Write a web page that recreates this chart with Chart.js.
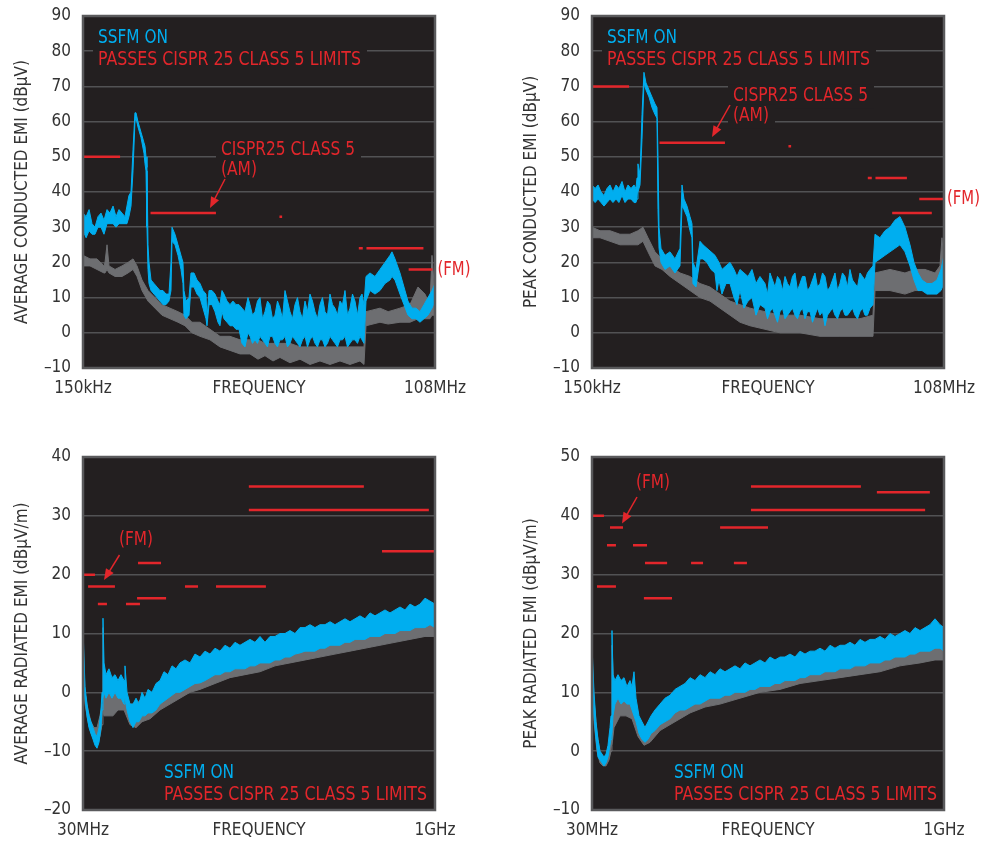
<!DOCTYPE html>
<html>
<head>
<meta charset="utf-8">
<title>Conducted and radiated EMI</title>
<script src="https://cdn.jsdelivr.net/npm/chart.js@4.4.1/dist/chart.umd.min.js"></script>
<style>
body { margin: 0; background: #fff; }
#wrap { position: relative; width: 991px; height: 842px; overflow: hidden; }
canvas { position: absolute; }
</style>
</head>
<body>
<div id="wrap">
<canvas id="avgCond" width="495" height="420" style="left:0;top:0"></canvas>
<canvas id="pkCond" width="482" height="420" style="left:509px;top:0"></canvas>
<canvas id="avgRad" width="495" height="415" style="left:0;top:441px"></canvas>
<canvas id="pkRad" width="482" height="415" style="left:509px;top:441px"></canvas>
</div>
<script>
const FONT = '"DejaVu Sans Condensed", "Liberation Sans", sans-serif';
const BLUE = '#00aeef', GRAY = '#6d6e71', RED = '#e3262b', BG = '#231f20', INK = '#333333';

// x axis labels (only the ends plus the axis name in the middle)
const condTickFreq = [0.15, 4.025, 108];
const condTickLabels = ['150kHz', 'FREQUENCY', '108MHz'];
const radTickFreq = [30, 515, 1000];
const radTickLabels = ['30MHz', 'FREQUENCY', '1GHz'];

// ---- average conducted EMI, frequencies in MHz, envelope top / bottom in dBuV
const avgCondOnFreq = [0.150,0.159,0.168,0.1775,0.1877,0.1985,0.210,0.222,0.235,0.248,0.263,0.278,0.294,0.311,0.329,0.341,0.354,0.368,0.382,0.396,0.404,0.419,0.4435,0.469,0.478,0.487,0.496,0.5055,0.515,0.535,0.5655,0.598,0.6325,0.669,0.7076,0.748,0.777,0.7915,0.837,0.8855,0.9366,0.972,0.990,1.028,1.088,1.129,1.194,1.263,1.336,1.413,1.494,1.523,1.581,1.672,1.768,1.870,1.941,2.015,2.092,2.213,2.340,2.475,2.618,2.769,2.929,3.098,3.276,
  3.401,3.564,3.734,3.913,4.100,4.297,4.501,4.717,4.942,5.179,5.427,5.687,5.958,6.244,6.542,6.856,7.182,7.527,7.886,8.265,8.658,9.074,9.507,9.963,10.44,10.94,11.46,12.01,12.58,13.18,13.81,14.47,15.17,15.90,16.65,17.45,18.29,19.17,20.08,21.04,22.04,23.10,24.20,25.36,26.57,27.6,28.64,
  29.73,32.03,35.17,38.62,42.40,46.55,48.33,51.11,56.12,60.48,65.17,70.23,75.68,81.56,87.89,94.71,102.1,108];
const avgCondOnHi = [34,33,35,31,30,33,34,32,35,34,36,33,35,34,33,36,39,40,52,62.5,62.5,60,57,54,53,50,47,25,20,15,14,13,12,12,11,11,20,30,28,25,22,20,12,9,10,17,17,15,14,12,11,4,12,12,11,9,8,12,11,9,8,9,8,8,7,6,10,
  8,5,6,9,10,4,6,9,8,4,5,9,7,4,12,9,6,4,8,10,6,4,9,6,11,9,6,4,8,10,6,5,11,8,7,5,9,8,12,5,7,11,9,5,10,11,8,
  16,17,16,18,20,22,23,21,17,13,9,7,7,6,8,10,12,14];
const avgCondOnLo = [29,27,29,28,28,30,30,28,31,31,31,30,31,31,31,31,33,36,46,60,61,58.5,55.5,51,48,46,30,18,14,12,11,10,9,8,8,9,12,26,25,22,18,14,5,4,5,13,13,11,10,7,4,2,8,8,6,3,2,6,4,3,2,2,1,1,-3,-4,0,
  -1,-3,-2,-3,-1,-2,-3,-4,-1,-1,-3,-4,-2,-2,-1,-4,-3,-1,-2,-3,-4,-2,-1,-4,-2,-1,-3,-4,-2,-2,-4,-3,-1,-2,-3,-4,-2,-2,-1,-4,-3,-2,-2,-3,-1,-2,-3,
  9,12,11,12,14,15,16,15,11,8,5,4,4,3,4,5,7,9];
const avgCondOffFreq = [0.150,0.171,0.1948,0.222,0.2263,0.235,0.2438,0.273,0.311,0.348,0.382,0.4116,0.4519,0.5055,0.576,0.6566,0.7625,0.8855,1.009,1.150,1.336,1.610,1.941,2.340,2.821,3.401,3.95,4.501,5.23,5.958,7.18,8.658,10.44,12.58,15.17,18.29,22.04,26.57,28.64,29.73,38.62,45.0,56.12,67.65,78.56,89.55,98.32,102.1,108];
const avgCondOffHi = [22,21,21,19,20,25,19,18,19,20,21,19,15,12,10,8,7,6,5,3,3,1,-1,-1,-2,-2,-2,-3,-3,-3,-3,-4,-4,-4,-4,-4,-4,-4,-4,6,7,6,7,8,13,11,8,22,10];
const avgCondOffLo = [19,19,18,17,17,18,17,16,16,17,18,16,12,9,7,5,4,3,2,0,-1,-2,-4,-5,-6,-6,-7.5,-6.5,-8,-7,-8.5,-7.5,-9,-8,-9,-8,-9,-8,-9,2,3,2.5,3,3,4,4,4,5,5];
const avgCondLimStart = [0.15, 0.53, 5.9, 26, 30, 41, 66];
const avgCondLimEnd = [0.3, 1.8, 6.2, 28, 54, 87, 103];
const avgCondLimLevel = [50, 34, 33, 24, 24, 24, 18];

// ---- peak conducted EMI
const pkCondOnFreq = [0.150,0.159,0.168,0.1775,0.1877,0.1985,0.210,0.222,0.235,0.248,0.263,0.278,0.294,0.311,0.329,0.341,0.348,0.354,0.368,0.382,0.396,0.4116,0.4353,0.4604,0.487,0.5055,0.515,0.525,0.5448,0.587,0.6445,0.7076,0.777,0.8065,0.837,0.8855,0.9366,0.972,0.990,1.0475,1.129,1.194,1.287,1.387,1.494,1.551,1.610,1.703,1.8355,1.978,2.1315,2.254,2.3845,2.569,2.769,2.984,3.216,3.465,
  3.805,3.988,4.177,4.378,4.586,4.806,5.036,5.278,5.529,5.794,6.071,6.362,6.665,6.985,7.318,7.669,8.035,8.421,8.822,9.245,9.686,10.15,10.64,11.15,11.68,12.24,12.82,13.44,14.08,14.76,15.45,16.19,16.97,17.78,18.63,19.52,20.46,21.44,22.46,23.54,24.66,25.84,27.08,28.64,
  29.73,32.64,35.84,39.35,43.20,47.43,52.08,57.18,61.62,66.40,71.55,78.56,86.26,94.71,102.1,108];
const pkCondOnHi = [42,41,42,40,39,41,42,40,42,41,43,40,42,41,42,41,44,48,45,62,74,71,69,67,65,64,50,30,24,22,23,21,24,42,38,36,33,31,20,18,26,25,24,23,22,21,20,18,19,20,18,16,18,17,16,18,14,16,
  14,11,17,15,13,16,15,12,16,14,13,16,17,12,14,16,16,12,13,15,17,13,14,17,16,12,13,15,17,12,14,17,16,13,18,15,14,13,17,16,15,17,18,19,
  28,27,29,30,32,33,30,25,20,17,15,14,14,15,18,22];
const pkCondOnLo = [38,37,38,37,36,37,38,37,38,37,39,37,38,38,37,37,38,40,42,55,71,69,67,64,62,61,35,24,20,18,19,17,19,36,35,33,29,27,14,13,21,21,20,18,17,12,15,11,14,14,10,8,12,7,9,10,5,8,
  7,4,6,7,5,3,6,7,4,5,6,7,5,4,6,7,4,6,6,3,5,7,5,6,2,5,6,7,5,4,6,7,5,5,6,7,5,4,6,7,5,5,7,8,
  20,21,22,23,24,25,23,19,15,12,12,11,11,11,12,14];
const pkCondOffFreq = [0.150,0.1742,0.210,0.2531,0.3051,0.354,0.389,0.4272,0.487,0.555,0.6445,0.777,0.9366,1.129,1.361,1.641,1.978,2.3845,2.875,3.805,5.036,7.318,10.64,15.45,22.46,28.64,29.73,39.35,52.08,62.78,75.68,91.24,100.2,104,108];
const pkCondOffHi = [30,29,29,28,28,29,30,27,23,21,19,17,16,14,13,11,9,8,7,6,5,5,4,4,4,5,17,18,17,18,18,17,19,27,20];
const pkCondOffLo = [27,27,26,25,25,25,26,23,19,18,16,14,12,10,9,7,5,3,2,1,0,0,-1,-1,-1,-1,12,12,11,12,12,12,13,13,14];
const pkCondLimStart = [0.15, 0.53, 5.9, 26, 30, 41, 68];
const pkCondLimEnd = [0.3, 1.8, 6.2, 28, 54, 86, 108];
const pkCondLimLevel = [70, 54, 53, 44, 44, 34, 38];

// ---- average radiated EMI, frequencies in MHz, dBuV/m
const avgRadOnFreq = [30.0,35.5,41.0,46.5,52.0,57.6,63.1,68.6,74.1,79.6,82.4,85.1,87.9,93.4,101.6,109.9,118.2,126.4,134.7,143.0,145.7,151.3,159.5,167.8,176.1,184.3,192.6,200.9,209.1,220.1,231.2,242.2,253.2,264.2,275.3,286.3,297.3,311.1,324.9,338.6,352.4,366.2,380.0,393.8,407.5,421.3,435.1,448.9,462.6,476.4,490.2,504.0,517.8,531.5,545.3,559.1,572.9,586.7,600.4,614.2,628.0,641.8,655.5,669.3,683.1,696.9,710.7,724.4,738.2,752.0,765.8,779.6,793.3,807.1,820.9,834.7,848.4,862.2,876.0,889.8,903.6,917.3,931.1,944.9,958.7,972.5,986.2,1000];
const avgRadOnHi = [11,1,-2,-4,-5,-6,-7,-7.5,-6,-3,0,12.6,5,3,4,2.5,3,2,3,2,4.5,0,-2,-2,-1,-2,0,-1,0.5,0,1.5,2,3.5,3,4.5,4,5,5.5,5,6.5,6,7,6.5,7.5,7,8,7.5,8.5,8,8.5,9,8.5,9.5,8.5,9.5,9.5,10,10,10.5,10,11,11,11.5,11,11.5,11.5,12,11.5,12,12.5,12,12.5,13,12.5,13.5,13,13.5,14,13.5,14,14.5,14,15,14.5,15,16,15.5,15];
const avgRadOnLo = [2,-1,-4,-6,-7,-8,-9,-9.5,-8.5,-6,-3,-1,0,-1,0,-1,0,-1,-1,-2,-1,-3,-5,-6,-5,-5,-4,-4,-3.5,-3.5,-3,-2,-1.5,-1,-0.5,0,0,0.5,1,1.5,1.6,2,2.5,3,3,3.5,3.5,4,4,4,4.5,4.5,5,5,5,5.5,5.5,6,6,6.5,6.7,7,7,7,7.5,7.5,8,8,8,8.5,8.5,9,9,9,9.5,9.5,9.5,10,10,10,10.5,10.5,10.5,11,11,11,11.5,11];
const avgRadOffFreq = [30.0,35.5,43.8,52.0,60.3,68.6,76.8,82.4,85.1,87.9,98.9,112.6,126.4,143.0,159.5,176.1,192.6,214.6,242.2,269.8,297.3,324.9,352.4,393.8,435.1,476.4,517.8,559.1,600.4,641.8,683.1,724.4,765.8,807.1,848.4,889.8,931.1,972.5,1000];
const avgRadOffHi = [10,0,-3,-5,-6,-6,-4,-2,11,2,1,1,0,0,-2,-2,-1,-1,1,2.5,3.5,4,5,6,6.5,7,7.5,8,8.5,9.5,10,10.5,11,11.5,12,12.5,13,14,13];
const avgRadOffLo = [2,-2,-5,-7,-8,-8.5,-7.5,-5.5,-3,-4,-4,-4,-3,-3,-5.5,-6,-5,-4.5,-3,-2,-1,0,0.5,1.5,2.5,3,3.5,4.5,5,5.5,6,6.5,7,7.5,8,8.5,9,9.5,9.5];
const avgRadLimStart = [30, 44, 71, 148.5, 181.6, 179, 311, 396.5, 487, 487, 854];
const avgRadLimEnd = [63, 118, 96, 187, 245, 259, 347, 534, 804, 983, 1000];
const avgRadLimLevel = [20, 18, 15, 15, 22, 16, 18, 18, 35, 31, 24];

// ---- peak radiated EMI
const pkRadOnFreq = [30.0,35.5,41.0,46.5,52.0,57.6,63.1,68.6,74.1,79.6,82.4,85.1,87.9,93.4,101.6,109.9,118.2,126.4,134.7,140.2,145.7,151.3,159.5,167.8,176.1,184.3,192.6,203.6,217.4,231.2,245.0,258.7,272.5,286.3,300.1,313.8,327.6,341.4,355.2,369.0,382.7,396.5,410.3,424.1,437.8,451.6,465.4,479.2,493.0,506.7,520.5,534.3,548.1,561.8,575.6,589.4,603.2,617.0,630.7,644.5,658.3,672.1,685.9,699.6,713.4,727.2,741.0,754.7,768.5,782.3,796.1,809.9,823.6,837.4,851.2,865.0,878.8,892.5,906.3,920.1,933.9,947.6,961.4,975.2,989.0,1000];
const pkRadOnHi = [18,10,5,2,0,-0.5,-1,-0.5,1,4,6,20.5,13,12,13,12,12.5,11,12,11,13.5,9,6,5,4,5,6,7,8,9,9.5,10.5,11,11.5,12.5,12,13,12.5,13.5,13,14,13.5,14,14.5,14,15,14.5,15,15.5,15,16,15.5,16,16,16.5,16,17,16.5,17,17,17.5,17,18,17.5,18,18,18.5,18,19,18.5,19,19,19.5,19,20,19.5,20,20.5,20,21,20.5,21,21.5,22.5,21.5,21];
const pkRadOnLo = [12,6,2,-1,-1.5,-2,-2.5,-2,-1,1,2,3,6,8,9,8,8.5,8,8,7,6,5,3,2,1.5,2,3,3.5,4.5,5,5.5,6.5,7,7,7.5,8,8,8.5,9,9,9,9.5,9.5,10,10,10,10.5,10.5,11,11,11,11.5,11.5,12,12,12,12.5,12.5,13,13,13,13.5,13.5,13.5,14,14,14,14.5,14.5,14.5,15,15,15,15.5,15.5,16,16,16,16.5,16.5,17,17,17,17.5,17.5,17];
const pkRadOffFreq = [30.0,35.5,43.8,52.0,60.3,68.6,76.8,82.4,85.1,90.6,107.2,123.7,140.2,156.8,173.3,189.8,217.4,258.7,300.1,341.4,382.7,437.8,493.0,548.1,603.2,658.3,713.4,768.5,823.6,878.8,933.9,975.2,1000];
const pkRadOffHi = [17,9,3,0,-1,-1,1,4,18,10,10,10,9,6,4,5,7,9,10.5,11.5,12.5,13,14,14.5,15.5,16,16.5,17.5,18,18.5,19,20.5,19.5];
const pkRadOffLo = [11,5,0,-2,-2.5,-2.5,-1.5,0,1,4,6,6,5.5,2.5,1,1.5,3.5,5,6.5,7.5,8,9,10,10.5,11.5,12,12.5,13,13.5,14.5,15,15.5,15.5];
const pkRadLimStart = [30, 79.6, 71.3, 143, 176, 303, 421, 43.8, 173, 383, 468, 468, 815];
const pkRadLimEnd = [63, 115.4, 96, 181.6, 237, 336, 457, 96, 250.5, 515, 771, 948, 961];
const pkRadLimLevel = [40, 38, 35, 35, 32, 32, 32, 28, 26, 38, 45, 41, 44];

// two line datasets, the top one filled down to the bottom one
function band(freq, hi, lo, color) {
  return [
    { data: freq.map((f, i) => ({ x: f, y: hi[i] })), borderColor: color, backgroundColor: color,
      borderWidth: 1, pointRadius: 0, fill: '+1' },
    { data: freq.map((f, i) => ({ x: f, y: lo[i] })), borderColor: color,
      borderWidth: 1, pointRadius: 0, fill: false }
  ];
}

// limit segments in one dataset, broken by null points
function limitSet(start, end, level) {
  const pts = [];
  start.forEach((s, i) => {
    pts.push({ x: s, y: level[i] }, { x: end[i], y: level[i] }, { x: end[i], y: null });
  });
  return { data: pts, borderColor: RED, borderWidth: 2.5, pointRadius: 0, fill: false, spanGaps: false };
}

function fitText(ctx, text, x, y, w, color) {
  ctx.save();
  ctx.font = '18.7px ' + FONT;
  ctx.fillStyle = color;
  ctx.textBaseline = 'middle';
  const m = ctx.measureText(text).width;
  ctx.translate(x, y);
  ctx.scale(w / m, 1);
  ctx.fillText(text, 0, 0);
  ctx.restore();
}

// dark plot area, frame, notes and arrows (positions relative to the plot area)
function panelPlugin(notes, arrows) {
  return {
    id: 'panel',
    beforeDraw(chart) {
      const a = chart.chartArea, ctx = chart.ctx;
      ctx.save();
      ctx.fillStyle = BG;
      ctx.fillRect(a.left, a.top, a.right - a.left, a.bottom - a.top);
      ctx.restore();
    },
    beforeDatasetsDraw(chart) {
      const a = chart.chartArea, ctx = chart.ctx;
      ctx.save();
      ctx.fillStyle = BG;
      notes.forEach(n => {
        if (n[5]) ctx.fillRect(a.left + n[2] - 5, a.top + n[3] - 12, n[4] + 11, 24);
      });
      ctx.restore();
    },
    afterDatasetsDraw(chart) {
      const a = chart.chartArea, ctx = chart.ctx;
      ctx.save();
      ctx.strokeStyle = '#5a5a5c';
      ctx.lineWidth = 2.5;
      ctx.strokeRect(a.left, a.top, a.right - a.left, a.bottom - a.top);
      ctx.restore();
      notes.forEach(n => fitText(ctx, n[0], a.left + n[2], a.top + n[3], n[4], n[1]));
      arrows.forEach(r => {
        const x0 = a.left + r[0], y0 = a.top + r[1], x1 = a.left + r[2], y1 = a.top + r[3];
        const len = Math.hypot(x1 - x0, y1 - y0), ux = (x1 - x0) / len, uy = (y1 - y0) / len;
        ctx.save();
        ctx.strokeStyle = RED;
        ctx.fillStyle = RED;
        ctx.lineWidth = 1.5;
        ctx.beginPath();
        ctx.moveTo(x0, y0);
        ctx.lineTo(x1 - ux * 9, y1 - uy * 9);
        ctx.stroke();
        ctx.beginPath();
        ctx.moveTo(x1, y1);
        ctx.lineTo(x1 - ux * 11 - uy * 4.5, y1 - uy * 11 + ux * 4.5);
        ctx.lineTo(x1 - ux * 11 + uy * 4.5, y1 - uy * 11 - ux * 4.5);
        ctx.closePath();
        ctx.fill();
        ctx.restore();
      });
    }
  };
}

function makeChart(id, c) {
  new Chart(document.getElementById(id), {
    type: 'line',
    data: {
      datasets: [limitSet(c.limStart, c.limEnd, c.limLevel),
                 ...band(c.onFreq, c.onHi, c.onLo, BLUE),
                 ...band(c.offFreq, c.offHi, c.offLo, GRAY)]
    },
    options: {
      responsive: false,
      animation: false,
      events: [],
      layout: { padding: { left: 0, right: c.padRight, top: 16, bottom: c.padBottom } },
      plugins: { legend: { display: false }, tooltip: { enabled: false } },
      scales: {
        x: {
          type: c.xType, min: c.tickFreq[0], max: c.tickFreq[2],
          grid: { display: false, drawTicks: false }, border: { display: false },
          afterBuildTicks: s => { s.ticks = c.tickFreq.map(v => ({ value: v })); },
          afterFit: s => { s.height = 44; s.paddingLeft = 0; s.paddingRight = 0; },
          ticks: { autoSkip: false, maxRotation: 0, padding: 10, color: INK,
                   font: { family: FONT, size: 17 }, callback: (v, i) => c.tickLabels[i] }
        },
        y: {
          min: c.yMin, max: c.yMax,
          afterFit: s => { s.width = 83; s.paddingTop = 0; s.paddingBottom = 0; },
          grid: { color: '#525254', lineWidth: 1.5, drawTicks: false },
          border: { display: false },
          ticks: { stepSize: 10, padding: 12, color: INK, font: { family: FONT, size: 17 },
                   callback: v => v < 0 ? '\u2013' + (-v) : v },
          title: { display: true, text: c.yTitle, color: INK, font: { family: FONT, size: 17 },
                   padding: { top: 12, bottom: 0 } }
        }
      }
    },
    plugins: [panelPlugin(c.notes, c.arrows)]
  });
}

makeChart('avgCond', {
  xType: 'logarithmic', tickFreq: condTickFreq, tickLabels: condTickLabels,
  yMin: -10, yMax: 90, yTitle: 'AVERAGE CONDUCTED EMI (dB\u00b5V)', padRight: 60, padBottom: 8,
  onFreq: avgCondOnFreq, onHi: avgCondOnHi, onLo: avgCondOnLo,
  offFreq: avgCondOffFreq, offHi: avgCondOffHi, offLo: avgCondOffLo,
  limStart: avgCondLimStart, limEnd: avgCondLimEnd, limLevel: avgCondLimLevel,
  notes: [['SSFM ON', BLUE, 15, 22, 70, false],
          ['PASSES CISPR 25 CLASS 5 LIMITS', RED, 15, 44, 263, true],
          ['CISPR25 CLASS 5', RED, 138, 134, 134, true],
          ['(AM)', RED, 138, 154, 36, true],
          ['(FM)', RED, 354.5, 254, 33, false]],
  arrows: [[142, 163, 127, 192]]
});

makeChart('pkCond', {
  xType: 'logarithmic', tickFreq: condTickFreq, tickLabels: condTickLabels,
  yMin: -10, yMax: 90, yTitle: 'PEAK CONDUCTED EMI (dB\u00b5V)', padRight: 47, padBottom: 8,
  onFreq: pkCondOnFreq, onHi: pkCondOnHi, onLo: pkCondOnLo,
  offFreq: pkCondOffFreq, offHi: pkCondOffHi, offLo: pkCondOffLo,
  limStart: pkCondLimStart, limEnd: pkCondLimEnd, limLevel: pkCondLimLevel,
  notes: [['SSFM ON', BLUE, 15, 22, 70, false],
          ['PASSES CISPR 25 CLASS 5 LIMITS', RED, 15, 44, 263, true],
          ['CISPR25 CLASS 5', RED, 141, 80.5, 135, true],
          ['(AM)', RED, 141, 100.5, 36, true],
          ['(FM)', RED, 355, 183, 33, false]],
  arrows: [[138, 89, 120, 121]]
});

makeChart('avgRad', {
  xType: 'linear', tickFreq: radTickFreq, tickLabels: radTickLabels,
  yMin: -20, yMax: 40, yTitle: 'AVERAGE RADIATED EMI (dB\u00b5V/m)', padRight: 60, padBottom: 2,
  onFreq: avgRadOnFreq, onHi: avgRadOnHi, onLo: avgRadOnLo,
  offFreq: avgRadOffFreq, offHi: avgRadOffHi, offLo: avgRadOffLo,
  limStart: avgRadLimStart, limEnd: avgRadLimEnd, limLevel: avgRadLimLevel,
  notes: [['(FM)', RED, 36, 83, 34, false],
          ['SSFM ON', BLUE, 81, 316, 70, false],
          ['PASSES CISPR 25 CLASS 5 LIMITS', RED, 81, 338, 263, false]],
  arrows: [[36.5, 98, 21, 123]]
});

makeChart('pkRad', {
  xType: 'linear', tickFreq: radTickFreq, tickLabels: radTickLabels,
  yMin: -10, yMax: 50, yTitle: 'PEAK RADIATED EMI (dB\u00b5V/m)', padRight: 47, padBottom: 2,
  onFreq: pkRadOnFreq, onHi: pkRadOnHi, onLo: pkRadOnLo,
  offFreq: pkRadOffFreq, offHi: pkRadOffHi, offLo: pkRadOffLo,
  limStart: pkRadLimStart, limEnd: pkRadLimEnd, limLevel: pkRadLimLevel,
  notes: [['(FM)', RED, 44, 26, 34, false],
          ['SSFM ON', BLUE, 82, 316, 70, false],
          ['PASSES CISPR 25 CLASS 5 LIMITS', RED, 82, 338, 263, false]],
  arrows: [[45, 40, 30, 66.5]]
});
</script>
</body>
</html>
